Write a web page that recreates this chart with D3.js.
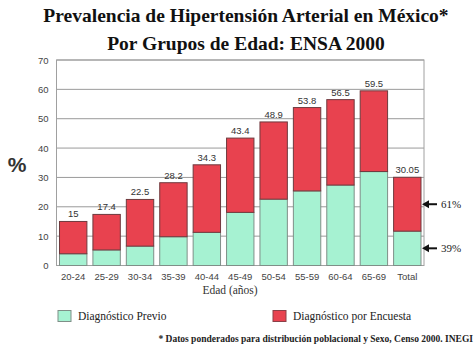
<!DOCTYPE html>
<html>
<head>
<meta charset="utf-8">
<script src="https://cdn.jsdelivr.net/npm/d3@7"></script>
<style>
  body { margin: 0; background: #fff; }
  svg { display: block; }
</style>
</head>
<body>
<script>
// age groups
const categories = ["20-24", "25-29", "30-34", "35-39", "40-44", "45-49", "50-54", "55-59", "60-64", "65-69", "Total"];
// total prevalence (label above bar)
const totals = [15, 17.4, 22.5, 28.2, 34.3, 43.4, 48.9, 53.8, 56.5, 59.5, 30.05];
const totalLabels = ["15", "17.4", "22.5", "28.2", "34.3", "43.4", "48.9", "53.8", "56.5", "59.5", "30.05"];
// previous diagnosis part (green)
const previo = [4, 5.3, 6.6, 9.8, 11.3, 18.1, 22.6, 25.4, 27.4, 32, 11.7];
const yTicks = [0, 10, 20, 30, 40, 50, 60, 70];

const W = 474, H = 354;
const margin = {top: 60, right: 50, bottom: 88.5, left: 56.5};
const width = W - margin.left - margin.right,
      height = H - margin.top - margin.bottom;

const green = "#a6f2d2", red = "#e8424f";

const svg = d3.select("body").append("svg")
    .attr("width", W)
    .attr("height", H);

// title
const title = svg.append("text")
    .attr("text-anchor", "middle")
    .style("font-family", "'Liberation Serif', 'Times New Roman', serif")
    .style("font-weight", "bold")
    .style("font-size", "19.5px")
    .style("fill", "#111");
title.append("tspan").attr("x", 246).attr("y", 22).text("Prevalencia de Hipertensión Arterial en México*");
title.append("tspan").attr("x", 246).attr("y", 50).text("Por Grupos de Edad: ENSA 2000");

const g = svg.append("g")
    .attr("transform", "translate(" + margin.left + "," + margin.top + ")");

const xScale = d3.scaleBand()
    .domain(categories)
    .range([0, width])
    .paddingInner(0.18)
    .paddingOuter(0.09);

const yScale = d3.scaleLinear()
    .domain([0, 70])
    .range([height, 0]);

// gridlines
g.append("g")
    .selectAll("line")
    .data(yTicks)
    .enter().append("line")
    .attr("x1", 0).attr("x2", width)
    .attr("y1", d => yScale(d)).attr("y2", d => yScale(d))
    .attr("stroke", "#9a9a9a")
    .attr("stroke-width", 1);

// plot frame
g.append("rect")
    .attr("x", 0).attr("y", 0)
    .attr("width", width).attr("height", height)
    .attr("fill", "none")
    .attr("stroke", "#a0a0a0");

// y axis
const yAxis = g.append("g")
    .call(d3.axisLeft(yScale).tickValues(yTicks).tickSize(0).tickPadding(8));
yAxis.select(".domain").remove();
yAxis.selectAll("text")
    .style("font-family", "'Liberation Sans', Arial, sans-serif")
    .style("font-size", "9.5px")
    .style("fill", "#444");

// x axis
const xAxis = g.append("g")
    .attr("transform", "translate(0," + height + ")")
    .call(d3.axisBottom(xScale).tickSize(0).tickPadding(8));
xAxis.select(".domain").remove();
xAxis.selectAll("text")
    .style("font-family", "'Liberation Sans', Arial, sans-serif")
    .style("font-size", "9.5px")
    .style("fill", "#444");

// green part
g.selectAll(".previo")
    .data(categories)
    .enter().append("rect")
    .attr("class", "previo")
    .attr("x", d => xScale(d))
    .attr("width", xScale.bandwidth())
    .attr("y", (d, i) => yScale(previo[i]))
    .attr("height", (d, i) => yScale(0) - yScale(previo[i]))
    .attr("fill", green)
    .attr("stroke", "#7f8f88")
    .attr("stroke-width", 1);

// red part
g.selectAll(".encuesta")
    .data(categories)
    .enter().append("rect")
    .attr("class", "encuesta")
    .attr("x", d => xScale(d))
    .attr("width", xScale.bandwidth())
    .attr("y", (d, i) => yScale(totals[i]))
    .attr("height", (d, i) => yScale(previo[i]) - yScale(totals[i]))
    .attr("fill", red)
    .attr("stroke", "#6e3a3e")
    .attr("stroke-width", 1);

// value labels
g.selectAll(".lbl")
    .data(categories)
    .enter().append("text")
    .attr("class", "lbl")
    .attr("x", d => xScale(d) + xScale.bandwidth() / 2)
    .attr("y", (d, i) => yScale(totals[i]) - 4)
    .attr("text-anchor", "middle")
    .style("font-family", "'Liberation Sans', Arial, sans-serif")
    .style("font-size", "9.5px")
    .style("fill", "#333")
    .text((d, i) => totalLabels[i]);

// % label
svg.append("text")
    .attr("x", 17).attr("y", 172)
    .attr("text-anchor", "middle")
    .style("font-family", "'Liberation Sans', Arial, sans-serif")
    .style("font-weight", "bold")
    .style("font-size", "21px")
    .style("fill", "#333")
    .text("%");

// x axis title
svg.append("text")
    .attr("x", 230).attr("y", 294)
    .attr("text-anchor", "middle")
    .style("font-family", "'Liberation Serif', 'Times New Roman', serif")
    .style("font-size", "11.5px")
    .style("fill", "#333")
    .text("Edad (años)");

// arrows for Total split
const lastX = margin.left + xScale("Total") + xScale.bandwidth();
const tot = totals[totals.length - 1], prv = previo[previo.length - 1];
const notes = [
  {v: prv + (tot - prv) / 2, t: "61%"},
  {v: prv / 2, t: "39%"}
];
notes.forEach(n => {
  const y = margin.top + yScale(n.v);
  svg.append("line")
      .attr("x1", lastX + 6).attr("x2", lastX + 16)
      .attr("y1", y).attr("y2", y)
      .attr("stroke", "#111").attr("stroke-width", 2);
  svg.append("path")
      .attr("d", "M" + (lastX + 1) + "," + y + " L" + (lastX + 8) + "," + (y - 4) + " L" + (lastX + 8) + "," + (y + 4) + " Z")
      .attr("fill", "#111");
  svg.append("text")
      .attr("x", lastX + 20).attr("y", y + 4)
      .style("font-family", "'Liberation Serif', 'Times New Roman', serif")
      .style("font-size", "11px")
      .style("fill", "#222")
      .text(n.t);
});

// legend
const legend = [
  {x: 58, c: green, s: "#7f8f88", t: "Diagnóstico Previo"},
  {x: 273, c: red, s: "#8a4048", t: "Diagnóstico por Encuesta"}
];
legend.forEach(l => {
  svg.append("rect")
      .attr("x", l.x).attr("y", 310.5)
      .attr("width", 13).attr("height", 11)
      .attr("fill", l.c).attr("stroke", l.s);
  svg.append("text")
      .attr("x", l.x + 20).attr("y", 320)
      .style("font-family", "'Liberation Serif', 'Times New Roman', serif")
      .style("font-size", "11.5px")
      .style("fill", "#222")
      .text(l.t);
});

// footnote
svg.append("text")
    .attr("x", 473).attr("y", 342)
    .attr("text-anchor", "end")
    .style("font-family", "'Liberation Serif', 'Times New Roman', serif")
    .style("font-weight", "bold")
    .style("font-size", "9.5px")
    .style("fill", "#222")
    .text("* Datos ponderados para distribución poblacional y Sexo, Censo 2000. INEGI");
</script>
</body>
</html>
